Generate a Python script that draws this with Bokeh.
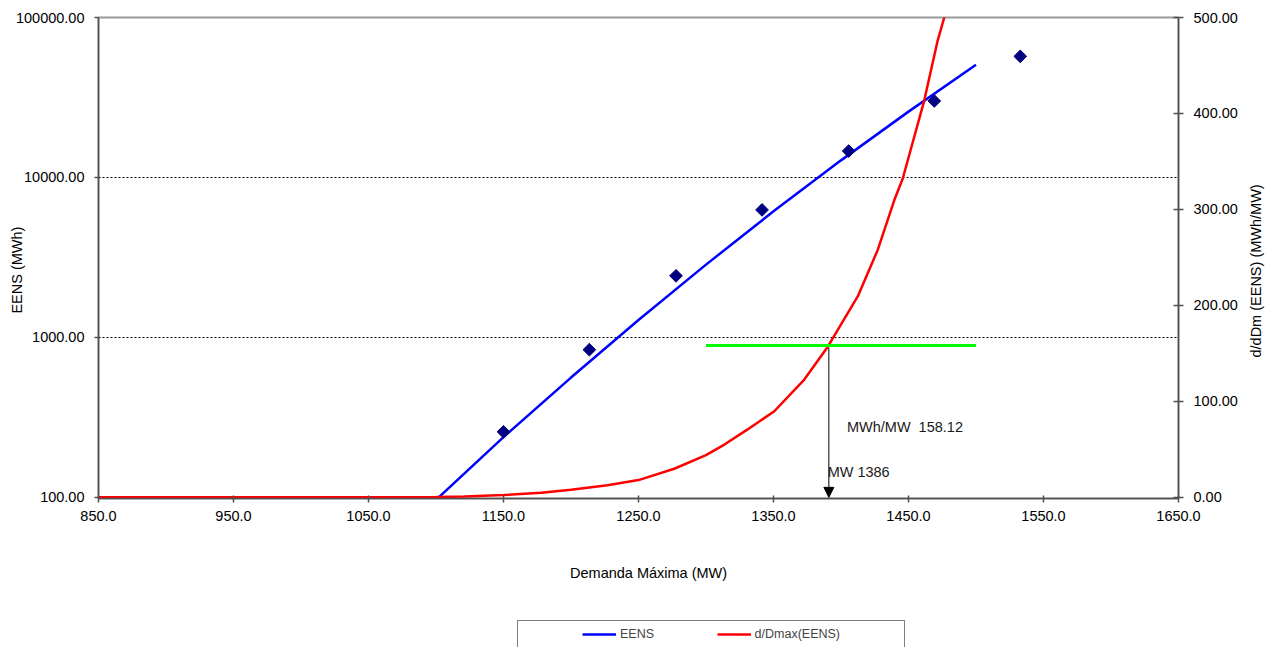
import math
from bokeh.plotting import figure
from bokeh.layouts import column
from bokeh.models import (Range1d, LinearAxis, LinearScale, FixedTicker, CustomJSTickFormatter,
                          Label, Arrow, NormalHead, Legend, LegendItem)
from bokeh.embed import file_html
from bokeh.resources import INLINE

# ---------------- data ----------------
demand_pts = [1150.0, 1213.6, 1277.8, 1341.5, 1405.7, 1469.1, 1532.8]
eens_pts = [257, 838, 2427, 6270, 14630, 30060, 57150]

fit_demand = [1102, 1150, 1200, 1250, 1300, 1350, 1400, 1450, 1500]
fit_eens = [100, 238, 561, 1285, 2851, 6140, 12790, 25800, 50600]

deriv_demand = [850, 1080, 1100, 1121, 1150, 1178, 1200, 1227, 1250, 1276.5, 1300, 1313.6,
                1330, 1350.6, 1372.8, 1390.1, 1412.4, 1427.2, 1439.5, 1445.7, 1461.7,
                1471.6, 1476.5, 1480]
deriv_value = [0, 0, 0.3, 0.9, 2.4, 4.9, 7.8, 12.5, 18, 29.8, 44, 55,
               70, 89.7, 122.7, 156.7, 209.3, 257.8, 309.8, 332, 413.7,
               476, 500, 525]

marg_demand = [1300, 1500]
marg_value = [158.12, 158.12]

arrow_demand = 1391
arrow_value = 158.12

x_ticks = [850, 950, 1050, 1150, 1250, 1350, 1450, 1550, 1650]
y_ticks = [100, 1000, 10000, 100000]
grid_ticks = [1000, 10000]
y2_ticks = [0, 100, 200, 300, 400, 500]

series_names = ["EENS", "d/Dmax(EENS)"]
label_mwh = "MWh/MW\u00a0 158.12"
label_mw = "MW 1386"

FONT = "Liberation Sans"
FS = "14.5px"
AXIS_COL = "#505050"
BLUE = "#0000FF"
RED = "#FF0000"
NB = "\u00a0"

p = figure(width=1274, height=610, output_backend="svg", toolbar_location=None,
           x_range=Range1d(850, 1650), y_range=Range1d(98.4, 100000),
           y_axis_type="log",
           min_border_left=98, min_border_right=96, min_border_top=17,
           min_border_bottom=112)
p.background_fill_color = "white"
p.border_fill_color = "white"
p.outline_line_color = "#999999"
p.outline_line_width = 2

p.extra_y_ranges = {"d": Range1d(-1.2, 500)}
p.extra_y_scales = {"d": LinearScale()}

xa = p.xaxis[0]
xa.ticker = FixedTicker(ticks=x_ticks, minor_ticks=[])
xa.formatter = CustomJSTickFormatter(code="return tick.toFixed(1)")
ya = p.yaxis[0]
ya.ticker = FixedTicker(ticks=y_ticks, minor_ticks=[])
ya.formatter = CustomJSTickFormatter(code="return tick.toFixed(2)")
ra = LinearAxis(y_range_name="d", ticker=FixedTicker(ticks=y2_ticks, minor_ticks=[]),
                formatter=CustomJSTickFormatter(code="return tick.toFixed(2)"))
p.add_layout(ra, "right")

for ax in (xa, ya, ra):
    ax.axis_line_color = AXIS_COL
    ax.axis_line_width = 1.5
    ax.major_tick_line_color = AXIS_COL
    ax.major_tick_line_width = 1.5
    ax.minor_tick_line_color = None
    ax.major_label_text_font = FONT
    ax.major_label_text_font_size = FS
    ax.major_label_text_color = "black"
    ax.axis_label_text_font = FONT
    ax.axis_label_text_font_size = FS
    ax.axis_label_text_font_style = "normal"
    ax.axis_label_text_color = "black"
xa.major_tick_in = 3
xa.major_tick_out = 4
xa.major_label_standoff = 8
ya.major_tick_in = 0
ya.major_tick_out = 4
ya.major_label_standoff = 10
ra.major_tick_in = 5
ra.major_tick_out = 5
ra.major_label_standoff = 10

xa.axis_label = NB * 5 + "Demanda Máxima (MW)"
xa.axis_label_standoff = 41
ya.axis_label = "EENS (MWh)" + NB * 6
try:
    ya.axis_label_standoff = -12
except Exception:
    ya.axis_label_standoff = 0
ra.axis_label_standoff = 15
ra.axis_label_orientation = math.pi / 2
try:
    ra.axis_label_align = "start"
    ra.axis_label = NB * 35 + "d/dDm (EENS) (MWh/MW)"
except Exception:
    ra.axis_label = "d/dDm (EENS) (MWh/MW)"

p.xgrid.visible = False
p.ygrid.ticker = FixedTicker(ticks=grid_ticks)
p.ygrid.grid_line_color = "black"
p.ygrid.grid_line_dash = "2 2"
p.ygrid.grid_line_width = 1

p.line(fit_demand, fit_eens, line_color=BLUE, line_width=2.5)
p.line(deriv_demand, deriv_value, line_color=RED, line_width=2.5, y_range_name="d")
p.line(marg_demand, marg_value, line_color="#00FF00", line_width=3, y_range_name="d")
p.scatter(demand_pts, eens_pts, marker="square", angle=math.pi / 4, size=9,
          fill_color="#000080", line_color="#000080")

p.add_layout(Arrow(end=NormalHead(size=10, fill_color="black", line_color="black"),
                   x_start=arrow_demand, y_start=arrow_value - 2,
                   x_end=arrow_demand, y_end=0, y_range_name="d",
                   line_color="black", line_width=1))

p.add_layout(Label(x=1404.4, y=73.8, y_range_name="d", text=label_mwh,
                   text_font=FONT, text_font_size=FS, text_color="#1a1a1a",
                   text_baseline="middle", text_align="left"))
p.add_layout(Label(x=1390.1, y=26.2, y_range_name="d", text=label_mw,
                   text_font=FONT, text_font_size=FS, text_color="#1a1a1a",
                   text_baseline="middle", text_align="left"))

# ---------------- legend strip (separate figure below) ----------------
lg = figure(width=1274, height=37, output_backend="svg", toolbar_location=None,
            x_range=Range1d(0, 1), y_range=Range1d(0, 1),
            x_axis_location=None, y_axis_location=None,
            min_border_left=0, min_border_right=0, min_border_top=0, min_border_bottom=0)
lg.outline_line_color = None
lg.xgrid.visible = False
lg.ygrid.visible = False
lg.background_fill_color = "white"
lg.border_fill_color = "white"
# legend swatches: lines placed outside the visible range
sw_blue = lg.line([5, 6], [5, 5], line_color=BLUE, line_width=2.5)
sw_red = lg.line([5, 6], [5, 5], line_color=RED, line_width=2.5)

legend = Legend(items=[LegendItem(label=series_names[0] + NB * 18, renderers=[sw_blue]),
                       LegendItem(label=series_names[1] + NB * 17, renderers=[sw_red])],
                orientation="horizontal", location=(419, -1))
legend.border_line_color = "black"
legend.border_line_width = 1
legend.background_fill_color = "white"
legend.background_fill_alpha = 1
legend.padding = 5
legend.margin = 0
legend.label_standoff = 4
legend.glyph_width = 34
legend.glyph_height = 16
legend.label_text_font = FONT
legend.label_text_font_size = "12.5px"
legend.label_width = 0
legend.spacing = 0
legend.title = " "
legend.title_location = "left"
legend.title_text_font_size = "12px"
legend.title_standoff = 45
lg.add_layout(legend)

layout = column(p, lg, spacing=0)
open("out.html", "w").write(file_html(layout, INLINE))
